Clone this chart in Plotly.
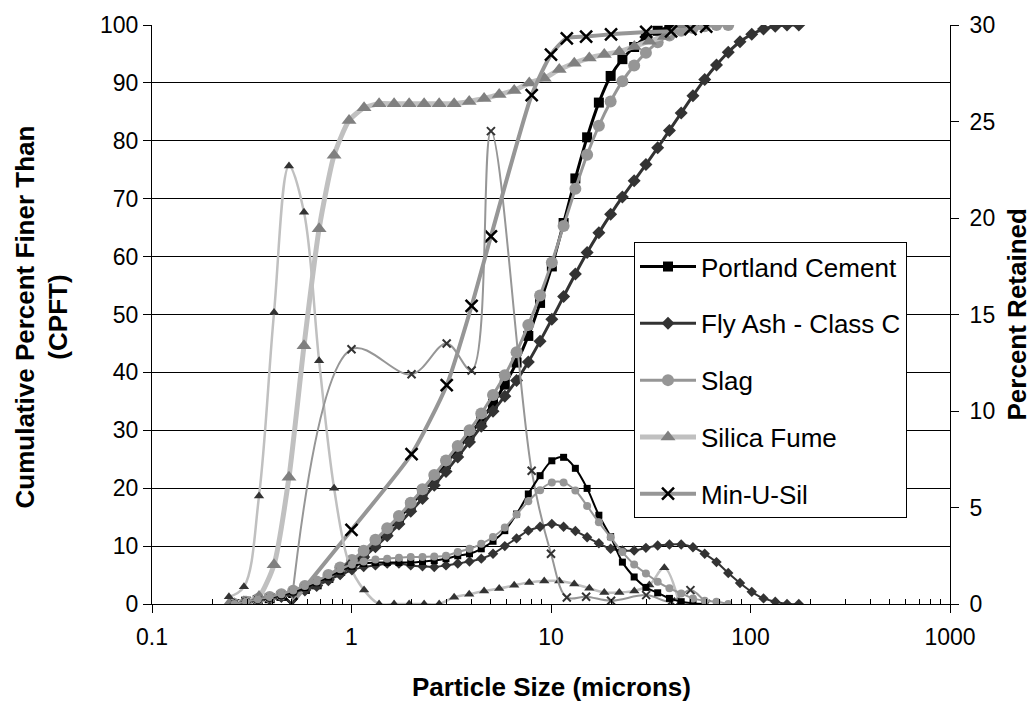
import plotly.graph_objects as go

# ---------------- data ----------------
# Laser-diffraction channel sizes (microns) used by Portland cement, fly ash, slag
horiba_sizes = [0.259, 0.296, 0.339, 0.389, 0.445, 0.510, 0.584, 0.669, 0.766, 0.877,
                1.005, 1.151, 1.318, 1.510, 1.729, 1.981, 2.269, 2.599, 2.976, 3.409,
                3.905, 4.472, 5.122, 5.867, 6.720, 7.697, 8.816, 10.097, 11.565, 13.246,
                15.172, 17.377, 19.904, 22.797, 26.111, 29.907, 34.255, 39.234, 44.938, 51.471,
                58.953, 67.523, 77.339, 88.583, 101.46, 116.21, 133.10, 152.45, 174.62]

pc_sizes = horiba_sizes[:41]
pc_cum = [0, 0.4, 0.7, 1.0, 1.4, 1.9, 2.6, 3.4, 4.5, 5.7,
          7.0, 8.6, 10.5, 12.6, 14.8, 17.1, 19.4, 21.8, 24.2, 26.7,
          29.2, 31.8, 34.6, 37.9, 41.7, 46.3, 52.0, 58.3, 65.8, 73.5,
          80.6, 86.6, 91.2, 94.1, 96.2, 97.9, 99.0, 99.6, 99.9, 100, 100]
pc_ret = [0, 0.12, 0.22, 0.32, 0.45, 0.62, 0.85, 1.1, 1.4, 1.7,
          1.95, 2.1, 2.15, 2.15, 2.15, 2.15, 2.2, 2.25, 2.35, 2.5,
          2.6, 2.86, 3.25, 3.8, 4.66, 5.7, 6.65, 7.42, 7.6, 7.03,
          5.99, 4.6, 3.49, 2.17, 1.4, 0.86, 0.58, 0.29, 0.12, 0.04, 0]

fa_sizes = horiba_sizes[:49]
fa_cum = [0, 0.3, 0.6, 0.9, 1.3, 1.8, 2.4, 3.2, 4.2, 5.3,
          6.6, 8.1, 9.9, 11.8, 13.8, 16.0, 18.2, 20.5, 22.9, 25.4,
          28.0, 30.7, 33.3, 35.9, 38.6, 41.8, 45.4, 49.2, 53.1, 57.0,
          60.7, 64.1, 67.3, 70.3, 73.1, 75.9, 78.8, 81.8, 84.8, 87.8,
          90.6, 93.1, 95.3, 97.1, 98.4, 99.3, 99.8, 100, 100]
fa_ret = [0, 0.1, 0.2, 0.3, 0.42, 0.58, 0.78, 1.0, 1.25, 1.5,
          1.75, 1.92, 2.0, 2.09, 2.09, 2.0, 1.95, 1.92, 2.0, 2.1,
          2.2, 2.35, 2.6, 3.0, 3.4, 3.8, 4.0, 4.15, 4.0, 3.78,
          3.46, 3.15, 2.86, 2.77, 2.77, 2.91, 3.03, 3.08, 3.08, 2.94,
          2.6, 2.17, 1.61, 1.09, 0.63, 0.29, 0.12, 0, 0]

sl_sizes = horiba_sizes[:43]
sl_cum = [0, 0.4, 0.8, 1.2, 1.7, 2.3, 3.1, 3.9, 5.0, 6.3,
          7.6, 9.2, 11.1, 13.1, 15.2, 17.5, 19.8, 22.3, 24.8, 27.3,
          30.0, 32.9, 36.1, 39.5, 43.5, 48.2, 53.3, 59.0, 65.3, 71.7,
          77.6, 82.6, 86.8, 90.3, 93.0, 95.2, 97.0, 98.2, 99.0, 99.5,
          99.8, 100, 100]
sl_ret = [0, 0.12, 0.24, 0.36, 0.5, 0.7, 0.93, 1.17, 1.5, 1.8,
          2.05, 2.2, 2.3, 2.35, 2.4, 2.43, 2.43, 2.46, 2.5, 2.69,
          2.86, 3.12, 3.47, 3.97, 4.64, 5.32, 5.9, 6.3, 6.3, 5.88,
          5.08, 4.23, 3.46, 2.69, 2.05, 1.58, 1.15, 0.81, 0.55, 0.29,
          0.17, 0.12, 0]

# Silica fume channel sizes (microns)
sf_sizes = [0.243, 0.289, 0.344, 0.409, 0.486, 0.578, 0.688, 0.818, 0.972, 1.156,
            1.375, 1.635, 1.945, 2.312, 2.75, 3.27, 3.89, 4.62, 5.5, 6.54,
            7.78, 9.25, 11.0, 13.08, 15.56, 18.5, 22.0, 26.16, 31.11, 37.0, 44.0]
sf_cum = [0, 0.4, 1.3, 6.8, 21.9, 44.6, 64.8, 77.5, 83.5, 85.7,
          86.4, 86.4, 86.4, 86.4, 86.4, 86.4, 86.8, 87.3, 88.0, 88.7,
          90.0, 90.8, 92.3, 93.4, 94.3, 94.9, 95.4, 96.3, 97.2, 98.0, 100]
sf_ret = [0.37, 0.89, 5.6, 15.1, 22.7, 20.3, 12.6, 6.0, 2.1, 0.72,
          0, 0, 0, 0, 0, 0.35, 0.5, 0.68, 0.8, 0.97,
          1.12, 1.19, 1.19, 1.04, 0.81, 0.6, 0.6, 0.68, 0.98, 1.88, 0]

# Min-U-Sil sizes (microns)
mus_sizes = [0.5, 1, 2, 3, 4, 5, 8, 10, 12, 15, 20, 30, 40, 50, 60]
mus_cum = [0, 12.8, 25.9, 37.8, 51.5, 63.5, 87.9, 94.9, 97.7, 98.0, 98.4, 98.8, 98.9, 99.3, 99.7]
mus_ret = [0, 13.2, 11.9, 13.5, 12.1, 24.5, 6.9, 2.6, 0.34, 0.38, 0.17, 0.46, 0.12, 0.72, 0]

x_tick_vals = [0.1, 1, 10, 100, 1000]
x_tick_text = ["0.1", "1", "10", "100", "1000"]
x_minor_vals = [m * d for d in (0.1, 1, 10, 100) for m in range(2, 10)]

FONT = "Liberation Sans, Arial, sans-serif"

fig = go.Figure()

def cum_trace(name, xs, ys, lcolor, lwidth, symbol, msize, mcolor, xline=False):
    marker = dict(symbol=symbol, size=msize, color=mcolor)
    if xline:
        marker["line"] = dict(color=mcolor, width=2.5)
    else:
        marker["line"] = dict(width=0)
    return go.Scatter(x=xs, y=ys, name=name, mode="lines+markers", legendgroup=name,
                      line=dict(color=lcolor, width=lwidth, shape="spline", smoothing=0.6),
                      marker=marker, yaxis="y", hoverinfo="skip")

def ret_trace(name, xs, ys, lcolor, lwidth, symbol, msize, mcolor, xline=False):
    marker = dict(symbol=symbol, size=msize, color=mcolor)
    if xline:
        marker["line"] = dict(color=mcolor, width=2)
    else:
        marker["line"] = dict(width=0)
    return go.Scatter(x=xs, y=ys, name=name + " (retained)", mode="lines+markers",
                      showlegend=False,
                      line=dict(color=lcolor, width=lwidth, shape="spline", smoothing=1.0),
                      marker=marker, yaxis="y2", hoverinfo="skip")

# retained (right axis) series
fig.add_trace(ret_trace("Silica Fume", sf_sizes, sf_ret, "#C0C0C0", 2.5, "triangle-up", 9, "#333333"))
fig.add_trace(ret_trace("Min-U-Sil", mus_sizes, mus_ret, "#969696", 2, "x-thin", 8, "#333333", xline=True))
fig.add_trace(ret_trace("Fly Ash - Class C", fa_sizes, fa_ret, "#333333", 2, "diamond", 8, "#333333"))
fig.add_trace(ret_trace("Portland Cement", pc_sizes, pc_ret, "#000000", 2, "square", 7, "#000000"))
fig.add_trace(ret_trace("Slag", sl_sizes, sl_ret, "#969696", 2, "circle", 8, "#969696"))

# cumulative (left axis) series
fig.add_trace(cum_trace("Portland Cement", pc_sizes, pc_cum, "#000000", 3, "square", 10, "#000000"))
fig.add_trace(cum_trace("Fly Ash - Class C", fa_sizes, fa_cum, "#333333", 3, "diamond", 10, "#333333"))
fig.add_trace(cum_trace("Slag", sl_sizes, sl_cum, "#969696", 3, "circle", 12, "#969696"))
fig.add_trace(cum_trace("Silica Fume", sf_sizes, sf_cum, "#C0C0C0", 5, "triangle-up", 13, "#808080"))
fig.add_trace(cum_trace("Min-U-Sil", mus_sizes, mus_cum, "#969696", 4, "x-thin", 12, "#000000", xline=True))

L, R, T, B = 152, 950, 20, 604
W, H = 1036, 703

axis_common = dict(showline=True, linecolor="black", linewidth=1, zeroline=False,
                   tickcolor="black", tickfont=dict(family=FONT, size=23, color="black"))

fig.update_layout(
    width=W, height=H,
    margin=dict(l=L, r=W - R, t=T, b=H - B, pad=0),
    paper_bgcolor="white", plot_bgcolor="white",
    font=dict(family=FONT, color="black"),
    showlegend=True,
    legend=dict(x=(634 - L) / (R - L), y=(B - 239) / (B - T), xanchor="left", yanchor="top",
                bgcolor="white", bordercolor="black", borderwidth=1,
                font=dict(family=FONT, size=26, color="black"),
                tracegroupgap=20, itemwidth=56, traceorder="grouped"),
    xaxis=dict(type="log", range=[-1, 3], tickmode="array", tickvals=x_tick_vals,
               ticktext=x_tick_text, ticks="outside", ticklen=8, showgrid=False,
               ticklabelstandoff=4,
               minor=dict(tickmode="array", tickvals=x_minor_vals, ticks="inside",
                          ticklen=5, tickcolor="black", showgrid=False),
               **axis_common),
    yaxis=dict(range=[0, 100], dtick=10, tick0=0, ticks="outside", ticklen=8,
               showgrid=True, gridcolor="black", gridwidth=1, **axis_common),
    yaxis2=dict(range=[0, 30], dtick=5, tick0=0, overlaying="y", side="right", anchor="x",
                ticks="outside", ticklen=8, showgrid=False, ticklabelstandoff=6, **axis_common),
    yaxis3=dict(range=[0, 30], dtick=5, tick0=0, overlaying="y", side="right", anchor="x",
                ticks="inside", ticklen=7, tickcolor="black", showgrid=False,
                showticklabels=False, showline=False, zeroline=False),
    xaxis2=dict(type="log", range=[-1, 3], tickmode="array", tickvals=x_tick_vals,
                overlaying="x", side="bottom", anchor="y", ticks="inside", ticklen=4,
                tickcolor="black", showticklabels=False, showgrid=False, showline=False,
                zeroline=False),
)

title_font = dict(family=FONT, size=26, color="black")
fig.add_annotation(text="<b>Particle Size (microns)</b>", xref="paper", yref="paper",
                   x=0.5, y=(B - 688) / (B - T), showarrow=False, font=title_font,
                   xanchor="center", yanchor="middle")
fig.add_annotation(text="<b>Cumulative Percent Finer Than</b><br><b>(CPFT)</b>", xref="paper",
                   yref="paper", x=(42 - L) / (R - L), y=(B - 315) / (B - T), showarrow=False,
                   font=title_font, textangle=-90, xanchor="center", yanchor="middle")
fig.add_annotation(text="<b>Percent Retained</b>", xref="paper", yref="paper",
                   x=(1016 - L) / (R - L), y=(B - 312) / (B - T), showarrow=False,
                   font=title_font, textangle=-90, xanchor="center", yanchor="middle")

fig.write_html("out.html")
